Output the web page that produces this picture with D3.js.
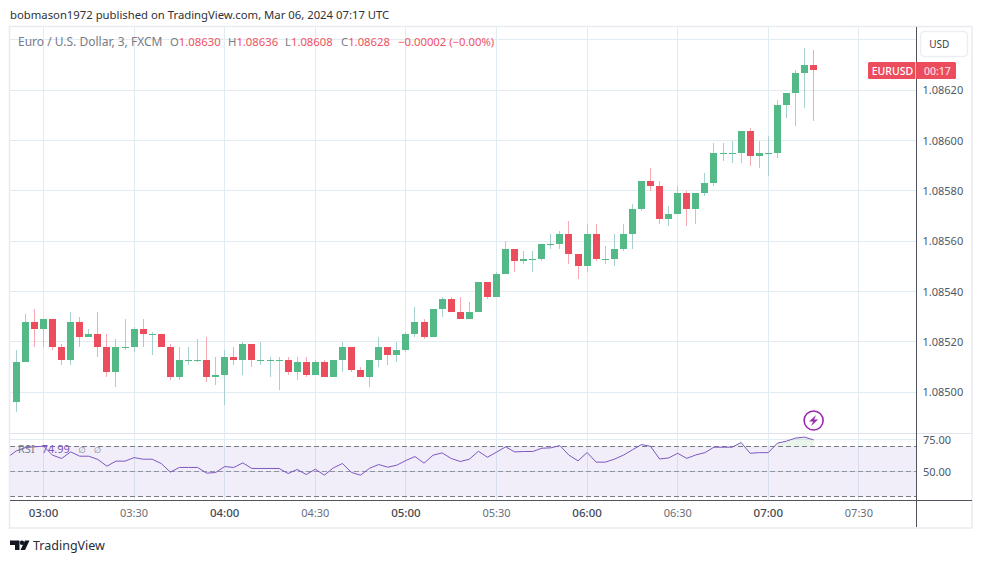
<!DOCTYPE html>
<html><head><meta charset="utf-8">
<script src="https://cdn.jsdelivr.net/npm/d3@7/dist/d3.min.js"></script>
<style>html,body{margin:0;padding:0;background:#fff}svg{display:block}text{font-family:"Noto Sans",sans-serif}</style>
</head><body><div id="chart"></div>
<script>
const FIRST_BAR_MINUTE = 171; // 02:51
const BAR_MINUTES = 3;
const open  = [1.08496,1.08512,1.08528,1.08525,1.08529,1.08518,1.08513,1.08528,1.08522,1.08523,1.08518,1.08508,1.08518,1.08518,1.08525,1.08523,1.08523,1.08518,1.08506,1.08513,1.08513,1.08513,1.08506,1.08507,1.08514,1.08513,1.08519,1.08513,1.08513,1.08513,1.08513,1.08508,1.08512,1.08507,1.08512,1.08506,1.08513,1.08518,1.08509,1.08506,1.08513,1.08518,1.08515,1.08517,1.08523,1.08528,1.08522,1.08533,1.08537,1.08532,1.08529,1.08532,1.08544,1.08538,1.08547,1.08557,1.08552,1.08553,1.08553,1.08559,1.08559,1.08563,1.08555,1.08550,1.08563,1.08553,1.08553,1.08557,1.08563,1.08573,1.08584,1.08582,1.08569,1.08571,1.08579,1.08573,1.08579,1.08583,1.08595,1.08595,1.08595,1.08604,1.08594,1.08595,1.08595,1.08614,1.08619,1.08627,1.08630];
const close = [1.08512,1.08528,1.08525,1.08529,1.08518,1.08513,1.08528,1.08522,1.08523,1.08518,1.08508,1.08518,1.08518,1.08525,1.08523,1.08523,1.08518,1.08506,1.08513,1.08513,1.08513,1.08506,1.08507,1.08514,1.08513,1.08519,1.08513,1.08513,1.08513,1.08513,1.08508,1.08512,1.08507,1.08512,1.08506,1.08513,1.08518,1.08509,1.08506,1.08513,1.08518,1.08515,1.08517,1.08523,1.08528,1.08522,1.08533,1.08537,1.08532,1.08529,1.08532,1.08544,1.08538,1.08547,1.08557,1.08552,1.08553,1.08553,1.08559,1.08559,1.08563,1.08555,1.08550,1.08563,1.08553,1.08553,1.08557,1.08563,1.08573,1.08584,1.08582,1.08569,1.08571,1.08579,1.08573,1.08579,1.08583,1.08595,1.08595,1.08595,1.08604,1.08594,1.08595,1.08595,1.08614,1.08619,1.08627,1.08630,1.08628];
const high  = [1.08517,1.08531,1.08533,1.08529,1.08529,1.08519,1.08532,1.08530,1.08525,1.08532,1.08523,1.08521,1.08529,1.08526,1.08529,1.08524,1.08523,1.08519,1.08518,1.08518,1.08521,1.08522,1.08514,1.08517,1.08518,1.08520,1.08519,1.08520,1.08514,1.08514,1.08514,1.08514,1.08514,1.08513,1.08513,1.08513,1.08520,1.08518,1.08510,1.08513,1.08522,1.08518,1.08520,1.08524,1.08534,1.08529,1.08533,1.08538,1.08538,1.08538,1.08536,1.08544,1.08544,1.08548,1.08560,1.08557,1.08556,1.08556,1.08559,1.08563,1.08564,1.08568,1.08555,1.08567,1.08567,1.08558,1.08563,1.08567,1.08575,1.08584,1.08589,1.08584,1.08574,1.08582,1.08580,1.08579,1.08587,1.08599,1.08599,1.08600,1.08604,1.08605,1.08600,1.08602,1.08616,1.08619,1.08628,1.08637,1.08636];
const low   = [1.08492,1.08512,1.08518,1.08518,1.08517,1.08511,1.08511,1.08518,1.08522,1.08514,1.08506,1.08502,1.08517,1.08516,1.08518,1.08515,1.08518,1.08505,1.08505,1.08511,1.08512,1.08504,1.08503,1.08495,1.08511,1.08507,1.08510,1.08511,1.08506,1.08501,1.08507,1.08505,1.08506,1.08507,1.08506,1.08506,1.08508,1.08508,1.08506,1.08502,1.08510,1.08511,1.08512,1.08516,1.08522,1.08521,1.08522,1.08530,1.08532,1.08529,1.08529,1.08532,1.08537,1.08538,1.08547,1.08548,1.08551,1.08548,1.08552,1.08557,1.08557,1.08551,1.08545,1.08548,1.08552,1.08551,1.08550,1.08556,1.08557,1.08572,1.08580,1.08567,1.08566,1.08571,1.08566,1.08567,1.08578,1.08582,1.08592,1.08591,1.08591,1.08590,1.08589,1.08586,1.08593,1.08609,1.08606,1.08613,1.08608];
// RSI begins one bar before the first visible candle
const rsi = [61.0,66.3,68.9,69.5,70.0,62.9,60.3,65.5,62.1,62.1,59.5,54.2,58.2,58.2,61.0,59.7,59.7,56.3,49.5,53.2,53.2,53.2,48.7,49.2,53.9,53.2,56.8,52.4,52.4,52.4,52.4,48.4,51.6,47.6,51.8,47.1,52.9,56.3,49.2,47.1,52.6,55.5,53.4,55.0,58.7,61.8,56.6,62.9,64.7,60.3,57.9,59.7,66.0,61.3,65.3,69.5,65.5,65.8,65.8,68.4,68.7,70.5,62.9,58.4,65.0,57.4,57.4,59.7,62.9,67.1,71.3,69.9,59.9,60.7,64.4,60.4,63.1,64.9,69.2,69.2,69.2,72.9,64.4,64.9,64.9,72.4,74.0,76.4,77.2,75.0];
const priceTicks = [1.0850,1.0852,1.0854,1.0856,1.0858,1.0860,1.0862,1.0864];
const priceLabels = [1.0850,1.0852,1.0854,1.0856,1.0858,1.0860,1.0862];
const timeTicks = [180,210,240,270,300,330,360,390,420,450];
const timeLabels = ["03:00","03:30","04:00","04:30","05:00","05:30","06:00","06:30","07:00","07:30"];
const rsiLevels = [70,50,30];
const rsiLabels = [75,50];

const W=982,H=563;
const svg=d3.select("#chart").append("svg").attr("width",W).attr("height",H);
const L=10,R=916,T=27,PB=433,AB=500,FR=972,FB=528;
const x=d3.scaleLinear().domain([180,420]).range([43.5,768.3]);
const y=d3.scaleLinear().domain([1.0850,1.0862]).range([392.3,90.3]);
const yr=d3.scaleLinear().domain([50,70]).range([471.5,446.2]);
const crisp=v=>Math.floor(v)+0.5;
const minuteOf=i=>FIRST_BAR_MINUTE+i*BAR_MINUTES;
const GRID="#e1ecf2",AXIS="#50535e",TXT="#787b86",UP="#53b987",DN="#eb4d5c";

svg.append("defs").append("clipPath").attr("id","pane").append("rect").attr("x",L).attr("y",T).attr("width",R-L).attr("height",AB-T);
svg.select("defs").append("clipPath").attr("id","ob").append("rect").attr("x",L).attr("y",T).attr("width",R-L).attr("height",yr(70)-T);

// grid
const g=svg.append("g").attr("fill","none").attr("stroke",GRID).attr("stroke-width",1);
g.selectAll(".v").data(timeTicks).join("line").attr("x1",d=>crisp(x(d))).attr("x2",d=>crisp(x(d))).attr("y1",T).attr("y2",AB);
g.selectAll(".h").data(priceTicks).join("line").attr("x1",L).attr("x2",R).attr("y1",d=>crisp(y(d))).attr("y2",d=>crisp(y(d)));
g.selectAll(".r").data(rsiLabels).join("line").attr("x1",L).attr("x2",R).attr("y1",d=>crisp(yr(d))).attr("y2",d=>crisp(yr(d)));

// wicks and bodies
const idx=d3.range(open.length);
const col=i=>close[i]>=open[i];
svg.append("g").selectAll("rect").data(idx).join("rect")
 .attr("x",i=>Math.floor(x(minuteOf(i)))).attr("width",1)
 .attr("y",i=>Math.round(y(high[i]))).attr("height",i=>Math.max(1,Math.round(y(low[i]))-Math.round(y(high[i]))))
 .attr("fill",i=>col(i)?"#a5d2d0":"#f7a9b0");
svg.append("g").selectAll("rect").data(idx).join("rect")
 .attr("x",i=>Math.floor(x(minuteOf(i)))-3).attr("width",7)
 .attr("y",i=>Math.round(y(Math.max(open[i],close[i])))).attr("height",i=>Math.max(1,Math.round(y(Math.min(open[i],close[i])))-Math.round(y(Math.max(open[i],close[i])))))
 .attr("fill",i=>col(i)?UP:DN);

// RSI pane
svg.append("rect").attr("x",L).attr("width",R-L).attr("y",yr(70)).attr("height",yr(30)-yr(70)).attr("fill","#7e57c2").attr("fill-opacity",0.1);
svg.append("g").selectAll("line").data(rsiLevels).join("line").attr("x1",L).attr("x2",R)
 .attr("y1",d=>crisp(yr(d))).attr("y2",d=>crisp(yr(d))).attr("stroke","#787b86").attr("stroke-width",1).attr("stroke-dasharray","5 3").attr("stroke-opacity",d=>d===50?0.75:1);
const rx=(d,i)=>x(minuteOf(i-1));
svg.append("path").datum(rsi).attr("clip-path","url(#ob)").attr("fill","#4caf50").attr("fill-opacity",0.12)
 .attr("d",d3.area().x(rx).y0(yr(70)).y1(d=>yr(d)));
svg.append("path").datum(rsi).attr("clip-path","url(#pane)").attr("fill","none").attr("stroke","#7e57c2").attr("stroke-width",1)
 .attr("d",d3.line().x(rx).y(d=>yr(d)));

// frame and axes
const fr=svg.append("g").attr("fill","none");
fr.append("rect").attr("x",9.5).attr("y",26.5).attr("width",FR-9.5).attr("height",FB-26.5).attr("stroke","#e9ebf1").attr("stroke-width",1.5);
fr.append("line").attr("x1",L).attr("x2",FR).attr("y1",433.5).attr("y2",433.5).attr("stroke","#e0e3eb");
fr.append("line").attr("x1",L).attr("x2",FR).attr("y1",500.5).attr("y2",500.5).attr("stroke",AXIS);
fr.append("line").attr("x1",916.5).attr("x2",916.5).attr("y1",T).attr("y2",FB-1).attr("stroke",AXIS);

// axis labels
const LAB="#4f5966";
svg.append("g").selectAll("text").data(timeTicks).join("text").attr("x",d=>x(d)).attr("y",516.5)
 .attr("text-anchor","middle").attr("font-size",d=>d%60===0?11.5:11)
 .attr("fill",d=>d%60===0?"#434852":"#6a6d78").attr("font-weight",d=>d%60===0?500:400)
 .text((d,i)=>timeLabels[i]);
svg.append("g").selectAll("text").data(priceLabels).join("text").attr("x",922.5).attr("y",d=>y(d)+4)
 .attr("font-size",11).attr("fill",LAB).text(d=>d.toFixed(5));
svg.append("g").selectAll("text").data(rsiLabels).join("text").attr("x",923).attr("y",d=>yr(d)+4)
 .attr("font-size",11).attr("fill",LAB).text(d=>d.toFixed(2));

// header / legends
svg.append("text").attr("x",10).attr("y",19).attr("font-size",11.3).attr("fill","#2e3238").text("bobmason1972 published on TradingView.com, Mar 06, 2024 07:17 UTC");
const lastI=open.length-1;
const leg=svg.append("text").attr("y",46).attr("font-size",11.3).attr("fill",TXT);
leg.append("tspan").attr("x",18).attr("font-size",12).text("Euro / U.S. Dollar, 3, FXCM");
const RED="#f0515f";
const fmt=d=>d.toFixed(5);
[["O",open[lastI],170],["H",high[lastI],228],["L",low[lastI],285],["C",close[lastI],341]].forEach(([k,v,px])=>{
  leg.append("tspan").attr("x",px).text(k);
  leg.append("tspan").attr("fill",RED).text(fmt(v));
});
leg.append("tspan").attr("x",398).attr("fill",RED).text("−0.00002 (−0.00%)");
const rl=svg.append("text").attr("y",452.7).attr("font-size",11).attr("fill",TXT);
rl.append("tspan").attr("x",18).text("RSI");
rl.append("tspan").attr("x",41.7).attr("font-size",11).attr("fill","#7e57c2").text("74.99");
svg.append("g").selectAll("text").data([78.5,94]).join("text").attr("x",d=>d).attr("y",452.7)
 .attr("font-size",8.5).attr("fill",TXT).style("font-family","'DejaVu Sans'").text("∅");

// price tag
const tagY=y(close[lastI]);
svg.append("rect").attr("x",868).attr("y",62).attr("width",88).attr("height",17).attr("rx",1.5).attr("fill",DN);
svg.append("line").attr("x1",915.5).attr("x2",915.5).attr("y1",62).attr("y2",79).attr("stroke","#fff").attr("stroke-opacity",0.6);
svg.append("text").attr("x",871.7).attr("y",tagY+4.6).attr("font-size",10.5).attr("font-weight",500).attr("fill","#fff").text("EURUSD");
svg.append("text").attr("x",924).attr("y",tagY+4.6).attr("font-size",10.5).attr("font-weight",500).attr("fill","#fbdde0").text("00:17");

// currency button
svg.append("rect").attr("x",920.5).attr("y",31.5).attr("width",47).attr("height",25).attr("rx",4).attr("fill","#fff").attr("stroke","#eceef2").attr("stroke-width",1.5);
svg.append("text").attr("x",929.3).attr("y",47.5).attr("font-size",10).attr("fill","#3a3e48").text("USD");

// lightning marker
const mk=svg.append("g").attr("transform",`translate(${x(minuteOf(lastI))},420.5)`);
mk.append("circle").attr("r",9.5).attr("fill","#fff").attr("stroke","#9c27b0").attr("stroke-width",1.6);
mk.append("path").attr("d","M2.5,-5.5 L-4.5,1 L-0.5,1 L-2.5,5.5 L4.5,-1 L0.5,-1 Z").attr("fill","#9c27b0");

// logo
const lg=svg.append("g").attr("transform","translate(10,540.5)").attr("fill","#131722");
lg.append("path").attr("d","M0,0 H9.5 V9.5 H5 V4.5 H0 Z M15,0 H19.5 L15,9.5 H10.5 Z");
lg.append("circle").attr("cx",12).attr("cy",2.2).attr("r",2.2);
svg.append("text").attr("x",33).attr("y",549.7).attr("font-size",12.5).attr("fill","#2a2e39").text("TradingView");
</script></body></html>
